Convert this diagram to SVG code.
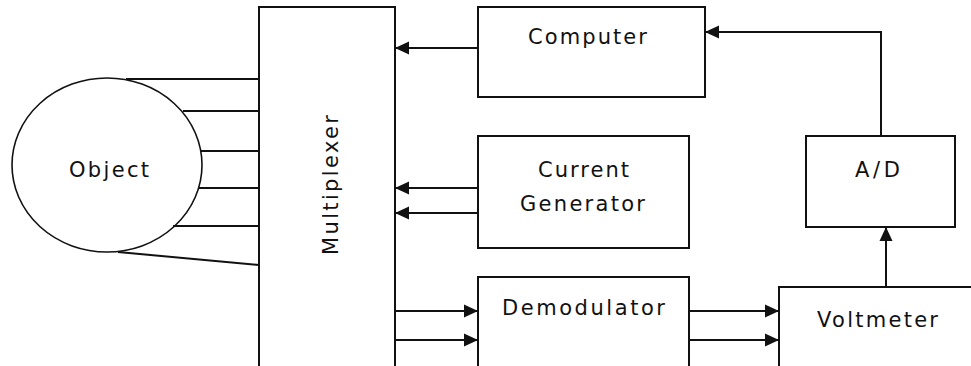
<svg xmlns="http://www.w3.org/2000/svg" width="971" height="366" viewBox="0 0 971 366">
  <style>
    .box { fill: #ffffff; stroke: #111111; stroke-width: 2; }
    .wire { fill: none; stroke: #111111; stroke-width: 2; }
    .lbl { font-family: "DejaVu Sans", Verdana, sans-serif; font-size: 21px; fill: #111111; }
  </style>
  <defs>
    <marker id="arrow" markerUnits="userSpaceOnUse" markerWidth="16" markerHeight="16" refX="14" refY="8" orient="auto">
      <path d="M0,1.5 L14,8 L0,14.5 Z" fill="#111111"/>
    </marker>
  </defs>
  <rect width="971" height="366" fill="#ffffff"/>

  <g id="object">
    <ellipse class="box" cx="107" cy="165" rx="95" ry="87" style="stroke-width:1.6"/>
    <text class="lbl" x="69" y="177" textLength="80" lengthAdjust="spacing">Object</text>
  </g>

  <g id="multiplexer">
    <rect class="box" x="259" y="7" width="136" height="370"/>
    <text class="lbl" transform="translate(338,255) rotate(-90)" textLength="140" lengthAdjust="spacing">Multiplexer</text>
  </g>

  <g id="computer">
    <rect class="box" x="478" y="7" width="227" height="90"/>
    <text class="lbl" x="528" y="44" textLength="119" lengthAdjust="spacing">Computer</text>
  </g>

  <g id="current-generator">
    <rect class="box" x="478" y="136" width="211" height="112"/>
    <text class="lbl" x="538" y="177" textLength="91" lengthAdjust="spacing">Current</text>
    <text class="lbl" x="520" y="211" textLength="125" lengthAdjust="spacing">Generator</text>
  </g>

  <g id="demodulator">
    <rect class="box" x="478" y="277" width="211" height="100"/>
    <text class="lbl" x="502" y="315" textLength="163" lengthAdjust="spacing">Demodulator</text>
  </g>

  <g id="voltmeter">
    <rect class="box" x="779" y="287" width="200" height="90"/>
    <text class="lbl" x="817" y="327" textLength="121" lengthAdjust="spacing">Voltmeter</text>
  </g>

  <g id="ad-converter">
    <rect class="box" x="806" y="136" width="149" height="91"/>
    <text class="lbl" x="855" y="177" textLength="45" lengthAdjust="spacing">A/D</text>
  </g>

  <g id="connectors">
    <!-- electrode leads from the object to the multiplexer -->
    <line class="wire" x1="126" y1="79" x2="259" y2="79"/>
    <line class="wire" x1="183" y1="111" x2="259" y2="111"/>
    <line class="wire" x1="201" y1="151" x2="259" y2="151"/>
    <line class="wire" x1="199" y1="188" x2="259" y2="188"/>
    <line class="wire" x1="173" y1="226" x2="259" y2="226"/>
    <line class="wire" x1="118" y1="252" x2="259" y2="265"/>

    <!-- control and excitation into the multiplexer -->
    <line class="wire" x1="478" y1="48" x2="395" y2="48" marker-end="url(#arrow)"/>
    <line class="wire" x1="478" y1="188" x2="395" y2="188" marker-end="url(#arrow)"/>
    <line class="wire" x1="478" y1="213" x2="395" y2="213" marker-end="url(#arrow)"/>

    <!-- measured signals -->
    <line class="wire" x1="395" y1="311" x2="478" y2="311" marker-end="url(#arrow)"/>
    <line class="wire" x1="395" y1="340" x2="478" y2="340" marker-end="url(#arrow)"/>
    <line class="wire" x1="689" y1="311" x2="779" y2="311" marker-end="url(#arrow)"/>
    <line class="wire" x1="689" y1="340" x2="779" y2="340" marker-end="url(#arrow)"/>
    <line class="wire" x1="886" y1="287" x2="886" y2="227" marker-end="url(#arrow)"/>
    <polyline class="wire" points="881,136 881,32 705,32" marker-end="url(#arrow)"/>
  </g>
</svg>
